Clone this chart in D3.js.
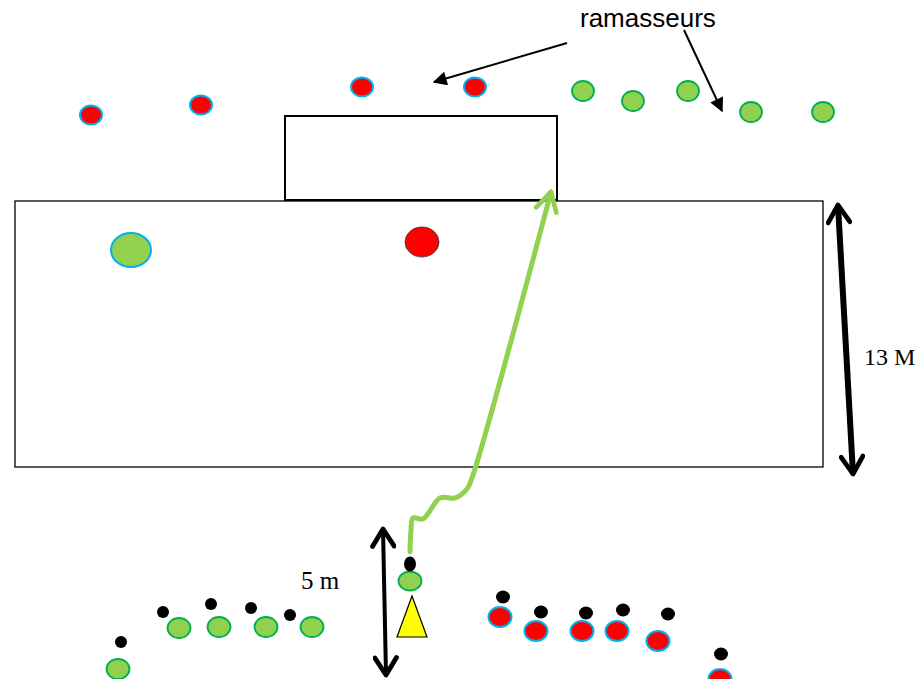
<!DOCTYPE html>
<html>
<head>
<meta charset="utf-8">
<script src="https://cdn.jsdelivr.net/npm/d3@7"></script>
<style>
  body { margin: 0; background: #fff; }
  svg { display: block; }
</style>
</head>
<body>
<div id="chart"></div>
<script>
// Positions (drawing units = pixels of the original)
let redPickers = [[91, 115], [201, 105], [362, 87], [475, 87]];
let greenPickers = [[583, 91], [633, 101], [688, 91], [751, 112], [823, 112]];

let greenLine = [[118, 669], [179, 628], [219, 627], [266, 627], [312, 627]];
let greenHeads = [[121, 642], [163, 612], [211, 604], [251, 608], [290, 615]];

let redLine = [[500, 617], [536, 631], [582, 631], [617, 631], [658, 641], [720, 679]];
let redHeads = [[503, 597], [541, 612], [586, 613], [623, 610], [668, 614], [721, 654]];

let shooterBall = [410, 581];
let shooterHead = [410, 564];
let cone = [[412, 596], [397, 637], [427, 637]];

let keeperGreen = [131, 250];
let keeperRed = [422, 242];

// path of the run / shot
let runPath = [[410, 552], [411, 530], [413, 518], [423, 519], [440, 498], [455, 498], [467, 489], [472, 478], [551, 192]];

let labels = ["ramasseurs", "13 M", "5 m"];

let width = 918, height = 679;
let x = d3.scaleLinear().domain([0, 918]).range([0, width]);
let y = d3.scaleLinear().domain([0, 679]).range([0, height]);

let svg = d3.select("#chart").append("svg")
    .attr("width", width)
    .attr("height", height);

// arrow markers
let defs = svg.append("defs");
defs.append("marker")
    .attr("id", "headThin")
    .attr("viewBox", "0 0 10 10")
    .attr("refX", 9).attr("refY", 5)
    .attr("markerWidth", 18).attr("markerHeight", 14)
    .attr("markerUnits", "userSpaceOnUse")
    .attr("orient", "auto-start-reverse")
    .append("path").attr("d", "M0,0 L10,5 L0,10 z").attr("fill", "#000");

defs.append("marker")
    .attr("id", "headOpen")
    .attr("viewBox", "0 0 12 12")
    .attr("refX", 10).attr("refY", 6)
    .attr("markerWidth", 26).attr("markerHeight", 26)
    .attr("markerUnits", "userSpaceOnUse")
    .attr("orient", "auto-start-reverse")
    .append("path").attr("d", "M2,1 L10,6 L2,11")
    .attr("fill", "none").attr("stroke", "#000").attr("stroke-width", 2.2)
    .attr("stroke-linecap", "round").attr("stroke-linejoin", "round");

defs.append("marker")
    .attr("id", "headGreen")
    .attr("viewBox", "0 0 12 12")
    .attr("refX", 10).attr("refY", 6)
    .attr("markerWidth", 28).attr("markerHeight", 28)
    .attr("markerUnits", "userSpaceOnUse")
    .attr("orient", "auto")
    .append("path").attr("d", "M2,1.5 L10,6 L2,10.5")
    .attr("fill", "none").attr("stroke", "#92d050").attr("stroke-width", 2)
    .attr("stroke-linecap", "round").attr("stroke-linejoin", "round");

// field and goal
svg.append("rect")
    .attr("x", x(15)).attr("y", y(201))
    .attr("width", x(823) - x(15)).attr("height", y(467) - y(201))
    .attr("fill", "none").attr("stroke", "#000").attr("stroke-width", 1.3);

svg.append("rect")
    .attr("x", x(285)).attr("y", y(116))
    .attr("width", x(557) - x(285)).attr("height", y(200) - y(116))
    .attr("fill", "#fff").attr("stroke", "#000").attr("stroke-width", 2);

// helper for ellipse groups
function dots(data, rx, ry, fill, stroke, sw) {
    svg.append("g").selectAll("ellipse")
        .data(data)
        .enter()
        .append("ellipse")
        .attr("cx", d => x(d[0]))
        .attr("cy", d => y(d[1]))
        .attr("rx", rx).attr("ry", ry)
        .attr("fill", fill)
        .attr("stroke", stroke)
        .attr("stroke-width", sw);
}

dots(redPickers, 11, 9.5, "#ff0000", "#00b0f0", 2);
dots(greenPickers, 11, 10, "#92d050", "#00b050", 1.8);

dots(greenLine, 11.5, 10, "#92d050", "#00b050", 1.8);
dots(greenHeads, 6, 6, "#000", "none", 0);
dots(redLine, 11.5, 10, "#ff0000", "#00b0f0", 2);
dots(redHeads, 7, 6.5, "#000", "none", 0);

// keepers / players in field
dots([keeperGreen], 20, 17, "#92d050", "#00b0f0", 2);
dots([keeperRed], 17, 15, "#ff0000", "#333", 0.8);

// run path
svg.append("path")
    .datum(runPath)
    .attr("d", d3.line().x(d => x(d[0])).y(d => y(d[1])).curve(d3.curveCatmullRom.alpha(0.5)))
    .attr("fill", "none")
    .attr("stroke", "#92d050")
    .attr("stroke-width", 5)
    .attr("stroke-linecap", "round")
    .attr("marker-end", "url(#headGreen)");

// shooter
dots([shooterBall], 11.5, 9.5, "#92d050", "#00b050", 1.8);
dots([shooterHead], 6, 7.5, "#000", "none", 0);

svg.append("path")
    .datum(cone)
    .attr("d", d => "M" + d.map(p => x(p[0]) + "," + y(p[1])).join("L") + "Z")
    .attr("fill", "#ffff00")
    .attr("stroke", "#000")
    .attr("stroke-width", 1.2);

// pointer arrows for label
svg.append("line")
    .attr("x1", x(567)).attr("y1", y(43))
    .attr("x2", x(434)).attr("y2", y(82))
    .attr("stroke", "#000").attr("stroke-width", 2)
    .attr("marker-end", "url(#headThin)");

svg.append("line")
    .attr("x1", x(684)).attr("y1", y(30))
    .attr("x2", x(722)).attr("y2", y(111))
    .attr("stroke", "#000").attr("stroke-width", 2)
    .attr("marker-end", "url(#headThin)");

// distance arrows
svg.append("line")
    .attr("x1", x(838)).attr("y1", y(205))
    .attr("x2", x(853)).attr("y2", y(474))
    .attr("stroke", "#000").attr("stroke-width", 6)
    .attr("marker-start", "url(#headOpen)")
    .attr("marker-end", "url(#headOpen)");

svg.append("line")
    .attr("x1", x(383)).attr("y1", y(529))
    .attr("x2", x(386)).attr("y2", y(675))
    .attr("stroke", "#000").attr("stroke-width", 4)
    .attr("marker-start", "url(#headOpen)")
    .attr("marker-end", "url(#headOpen)");

// labels
svg.append("text")
    .attr("x", x(580)).attr("y", y(27))
    .attr("font-family", "Liberation Sans, Arial, sans-serif")
    .attr("font-size", 26)
    .text(labels[0]);

svg.append("text")
    .attr("x", x(864)).attr("y", y(365))
    .attr("font-family", "Liberation Serif, Times New Roman, serif")
    .attr("font-size", 24)
    .text(labels[1]);

svg.append("text")
    .attr("x", x(301)).attr("y", y(589))
    .attr("font-family", "Liberation Serif, Times New Roman, serif")
    .attr("font-size", 25)
    .text(labels[2]);
</script>
</body>
</html>
